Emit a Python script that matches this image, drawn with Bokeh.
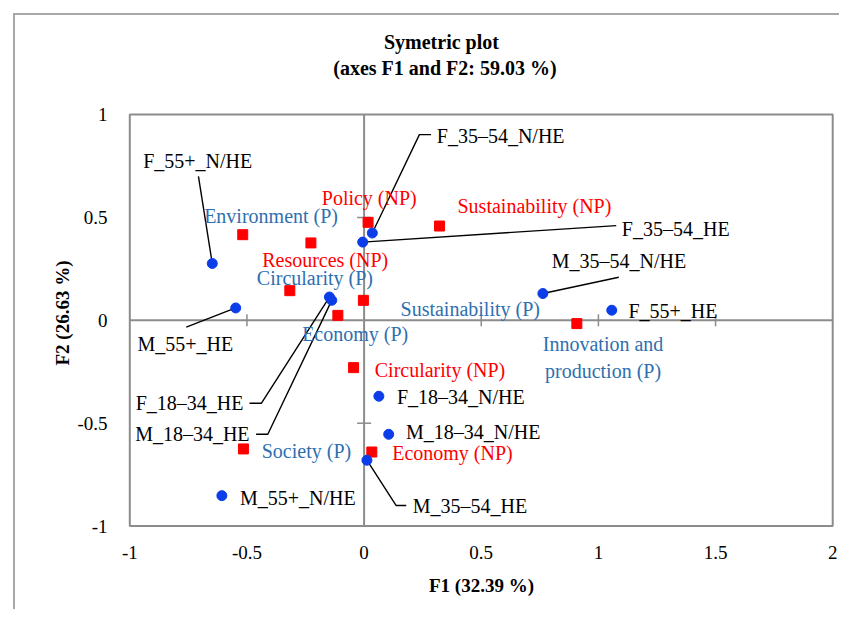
from bokeh.plotting import figure
from bokeh.models import Range1d, FixedTicker, ColumnDataSource, Title
from bokeh.embed import file_html
from bokeh.resources import INLINE
from bokeh.core.properties import value

# ---- Observations (blue points) ----
obs_names = ["F_55+_N/HE", "M_55+_HE", "F_18\u201334_HE", "M_18\u201334_HE",
             "F_35\u201354_HE", "F_35\u201354_N/HE", "M_35\u201354_N/HE", "F_55+_HE",
             "F_18\u201334_N/HE", "M_18\u201334_N/HE", "M_35\u201354_HE", "M_55+_N/HE"]
obs_f1 = [-0.648, -0.548, -0.148, -0.138, -0.006, 0.035, 0.763, 1.057, 0.063, 0.105, 0.012, -0.607]
obs_f2 = [0.276, 0.060, 0.113, 0.097, 0.380, 0.424, 0.130, 0.049, -0.369, -0.554, -0.680, -0.852]

# ---- Variables (red squares) ----
var_names = ["Environment (P)", "Resources (NP)", "Circularity (P)", "Economy (P)",
             "Sustainability (P)", "Policy (NP)", "Sustainability (NP)",
             "Innovation and\nproduction (P)", "Circularity (NP)", "Society (P)", "Economy (NP)"]
var_f1 = [-0.518, -0.227, -0.317, -0.112, -0.003, 0.017, 0.322, 0.908, -0.045, -0.515, 0.033]
var_f2 = [0.416, 0.376, 0.144, 0.024, 0.097, 0.476, 0.458, -0.016, -0.230, -0.625, -0.640]
var_type = ["P", "NP", "P", "P", "P", "NP", "NP", "P", "NP", "P", "NP"]

# ---- Axis ticks ----
x_ticks = [-1, -0.5, 0, 0.5, 1, 1.5, 2]
x_tick_labels = ["-1", "-0.5", "0", "0.5", "1", "1.5", "2"]
y_ticks = [-1, -0.5, 0, 0.5, 1]
y_tick_labels = ["-1", "-0.5", "0", "0.5", "1"]

title_lines = ["Symetric plot", "(axes F1 and F2: 59.03 %)"]
x_title = "F1 (32.39 %)"
y_title = "F2 (26.63 %)"

# ---- Label placement (annotation positions, data units) ----
obs_lab_x = [-0.710, -0.763, -0.745, -0.733, 1.330, 0.583, 1.088, 1.318, 0.413, 0.466, 0.452, -0.283]
obs_lab_y = [0.773, -0.113, -0.403, -0.554, 0.446, 0.894, 0.287, 0.045, -0.373, -0.543, -0.904, -0.862]
obs_leader = [
    [(-0.707, 0.699)],
    [(-0.759, -0.033)],
    [(-0.438, -0.403), (-0.489, -0.403)],
    [(-0.411, -0.554), (-0.461, -0.554)],
    [(1.076, 0.460)],
    [(0.236, 0.902), (0.286, 0.902)],
    [(1.087, 0.209)],
    [],
    [],
    [],
    [(0.137, -0.900), (0.180, -0.900)],
    [],
]
var_lab_x = [-0.397, -0.166, -0.210, -0.038, 0.453, 0.022, 0.727, 1.020, 0.324, -0.246, 0.377]
var_lab_y = [0.505, 0.292, 0.207, -0.065, 0.057, 0.594, 0.557, -0.180, -0.240, -0.635, -0.645]
title_x = [0.330, 0.345]
title_y = [1.352, 1.228]

FONT = "Liberation Serif"
GRAY = "#8c8c8c"
BLUE_PT = "#0b3de8"
BLUE_TXT = "#2e6fb0"
RED = "#ff0000"

# plotting area: the data box is -1..2 x -1..1; the frame is padded so that
# the title can be drawn inside it (same px/unit scale as the box)
X0, X1 = -1.01408, 2.01622
Y0, Y1 = -1.01652, 1.48105

p = figure(width=826, height=596, output_backend="svg", toolbar_location=None,
           x_range=Range1d(X0, X1), y_range=Range1d(Y0, Y1),
           min_border_left=111, min_border_right=5, min_border_top=0, min_border_bottom=82)
p.margin = (13, 0, 0, 13)
p.styles = {"border-top": "2px solid #a8a8a8", "border-left": "2px solid #a8a8a8"}
p.background_fill_color = "white"
p.border_fill_color = "white"
p.xgrid.visible = False
p.ygrid.visible = False
p.outline_line_color = None

for ax, ticks, labels in ((p.xaxis[0], x_ticks, x_tick_labels), (p.yaxis[0], y_ticks, y_tick_labels)):
    ax.ticker = FixedTicker(ticks=ticks)
    ax.major_label_overrides = {float(t): l for t, l in zip(ticks, labels)}
    ax.axis_line_color = None
    ax.major_tick_line_color = None
    ax.minor_tick_line_color = None
    ax.major_tick_in = 0
    ax.major_tick_out = 0
    ax.major_label_text_font = FONT
    ax.major_label_text_font_size = "19px"
    ax.major_label_text_color = "black"
    ax.axis_label_text_font = FONT
    ax.axis_label_text_font_size = "19px"
    ax.axis_label_text_font_style = "bold"
    ax.axis_label_text_color = "black"

p.xaxis.axis_label = x_title
p.xaxis.major_label_standoff = 16
p.xaxis.axis_label_standoff = 13
p.yaxis.major_label_standoff = 19
p.yaxis.major_label_orientation = "horizontal"

# y-axis title, placed along the data box (not the padded frame)
p.add_layout(Title(text=y_title, align="left", offset=164, vertical_align="bottom", standoff=4,
                   text_font=FONT, text_font_size="19px", text_font_style="bold",
                   text_color="black"), "left")

# Data box and cross axes through origin
p.quad(left=[x_ticks[0]], right=[x_ticks[-1]], bottom=[y_ticks[0]], top=[y_ticks[-1]],
       fill_color=None, line_color=GRAY, line_width=2)
p.segment(x0=[0, x_ticks[0]], y0=[y_ticks[0], 0], x1=[0, x_ticks[-1]], y1=[y_ticks[-1], 0],
          line_color=GRAY, line_width=2)

# small crossing ticks on the origin axes
tx = [t for t in x_ticks if t not in (x_ticks[0], 0, x_ticks[-1])]
ty = [t for t in y_ticks if t not in (y_ticks[0], 0, y_ticks[-1])]
dy = 6 / 205.8
dx = 7 / 234.3
p.segment(x0=tx, y0=[-dy] * len(tx), x1=tx, y1=[dy] * len(tx), line_color=GRAY, line_width=1.5)
p.segment(x0=[-dx] * len(ty), y0=ty, x1=[dx] * len(ty), y1=ty, line_color=GRAY, line_width=1.5)

# Leader lines
lx, ly = [], []
for x0, y0, lead in zip(obs_f1, obs_f2, obs_leader):
    if lead:
        lx.append([x0] + [pt[0] for pt in lead])
        ly.append([y0] + [pt[1] for pt in lead])
p.multi_line(xs=lx, ys=ly, line_color="black", line_width=1.4)

# Variables
var_src = ColumnDataSource(dict(x=var_f1, y=var_f2, name=var_names, lx=var_lab_x, ly=var_lab_y,
                                color=[BLUE_TXT if t == "P" else RED for t in var_type]))
p.scatter("x", "y", source=var_src, marker="square", size=10, fill_color=RED, line_color=RED)
p.text("lx", "ly", text="name", source=var_src, text_color="color",
       text_font=value(FONT), text_font_size="20px", text_align="center",
       text_baseline="middle", text_line_height=1.2)

# Observations
obs_src = ColumnDataSource(dict(x=obs_f1, y=obs_f2, name=obs_names, lx=obs_lab_x, ly=obs_lab_y))
p.scatter("x", "y", source=obs_src, marker="circle", size=10, fill_color=BLUE_PT, line_color=BLUE_PT)
p.text("lx", "ly", text="name", source=obs_src, text_color="black",
       text_font=value(FONT), text_font_size="20px", text_align="center", text_baseline="middle")

# Chart title (two centred lines)
p.text(x=title_x, y=title_y, text=title_lines, text_color="black", text_font=value(FONT),
       text_font_size="20px", text_font_style="bold", text_align="center", text_baseline="middle")

open("out.html", "w").write(file_html(p, INLINE))
